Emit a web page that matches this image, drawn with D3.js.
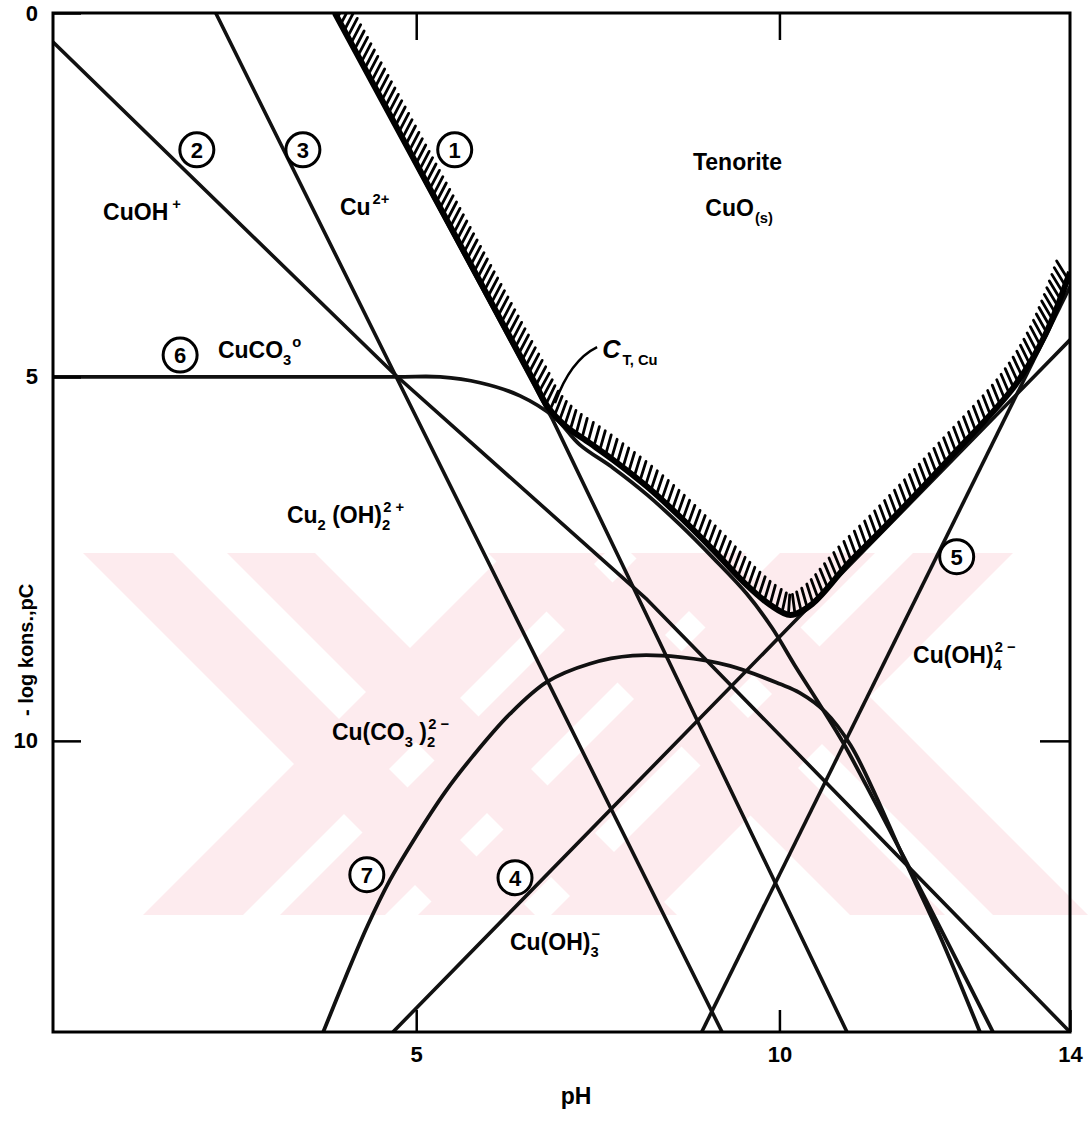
<!DOCTYPE html>
<html>
<head>
<meta charset="utf-8">
<script src="https://cdn.jsdelivr.net/npm/d3@7"></script>
<style>
  html, body { margin: 0; padding: 0; background: #fff; }
  svg { display: block; font-family: 'Liberation Sans', Arial, sans-serif; font-weight: bold; }
</style>
</head>
<body>
<svg id="chart" width="1088" height="1122"></svg>
<script>
// [pH, -log C] pairs
const cuIon = [[3.88, 0], [6.88, 5.59], [10.93, 14]]                    // 1  Cu2+
const cuOH = [[0, 0.40], [4.71, 4.97], [8.18, 8.06], [14, 14]]            // 2  CuOH+
const cu2OH2 = [[2.24, 0], [4.71, 4.97], [9.21, 14]]                      // 3  Cu2(OH)2 2+
const cuOH3 = [[4.68, 14], [10.15, 8.42], [14, 4.49]]                     // 4  Cu(OH)3-
const cuOH4 = [[8.93, 14], [14, 3.76]]                                    // 5  Cu(OH)4 2-
const cuCO3 = [[0, 5.0], [4.71, 5.0], [5.33, 5.0], [5.88, 5.08], [6.43, 5.26],
  [6.91, 5.56], [7.25, 5.93], [7.71, 6.25], [8.18, 6.62], [8.63, 7.03],
  [9.09, 7.49], [9.55, 7.98], [9.90, 8.45], [10.21, 8.96], [10.56, 9.51],
  [10.88, 10.03], [11.32, 10.85], [11.84, 11.84], [12.94, 14]]           // 6  CuCO3°
const cuCO32 = [[3.72, 14], [4.03, 13.24], [4.33, 12.54], [4.64, 11.91],
  [4.98, 11.34], [5.40, 10.70], [5.78, 10.21], [6.29, 9.63], [6.80, 9.19],
  [7.39, 8.94], [7.98, 8.83], [8.63, 8.85], [9.32, 8.97], [10.01, 9.22],
  [10.28, 9.34], [10.63, 9.60], [10.98, 10.06], [11.32, 10.74], [11.66, 11.50],
  [12.21, 12.68], [12.76, 14]]                                            // 7  Cu(CO3)2 2-
const ctCu = [[3.88, 0], [6.61, 5.04], [6.81, 5.41], [7.05, 5.67], [7.39, 5.91],
  [7.71, 6.14], [8.18, 6.51], [8.63, 6.92], [9.09, 7.38], [9.55, 7.86],
  [9.87, 8.13], [10.15, 8.27], [10.45, 8.12], [10.97, 7.54], [11.43, 7.08],
  [12.35, 6.11], [13.24, 5.12], [13.66, 4.42], [14, 3.56]]                // total dissolved Cu

const xTicks = [5, 10, 14]
const yTicks = [0, 5, 10]

// circled line numbers [number, pH, pC]
const markers = [[1, 5.53, 1.88], [2, 1.98, 1.88], [3, 3.44, 1.88], [6, 1.75, 4.70],
  [7, 4.32, 11.84], [4, 6.36, 11.88], [5, 12.44, 7.47]]

// species names: position [pH, pC] and text pieces
const names = [
  { at: [0.69, 2.84], parts: [['CuOH'], ['+', 'sup', 4]] },
  { at: [3.95, 2.78], parts: [['Cu'], ['2+', 'sup', 2]] },
  { at: [2.27, 4.74], parts: [['CuCO'], ['3', 'sub'], ['o', 'sup', 1]] },
  { at: [8.81, 2.16], parts: [['Tenorite']] },
  { at: [8.98, 2.79], parts: [['CuO'], ['(s)', 'sub', 1]] },
  { at: [3.22, 7.01], parts: [['Cu'], ['2', 'sub'], [' (OH)'], ['2', 'sub'], ['2 +', 'sup', -7]] },
  { at: [3.84, 9.99], parts: [['Cu(CO'], ['3', 'sub'], [' )'], ['2', 'sub'], ['2 −', 'sup', -7]] },
  { at: [6.29, 12.87], parts: [['Cu(OH)'], ['3', 'sub'], ['−', 'sup', -7]] },
  { at: [11.84, 8.93], parts: [['Cu(OH)'], ['4', 'sub'], ['2 −', 'sup', -7]] }
]
const ctLabel = { at: [7.56, 4.74], parts: [['C', 'it'], ['T, Cu', 'sub', 2]] }
const ctLeader = [[7.49, 4.59], [7.12, 4.77], [6.91, 5.36]]

// faint scanned watermark behind the plot (page pixels): slant, left x, width
const stamp = { top: 553, bottom: 915 }
const stampBands = [['\\', 83, 90], ['\\', 227, 88], ['/', 143, 100], ['/', 280, 105],
  ['\\', 488, 95], ['\\', 631, 95], ['/', 418, 95], ['/', 551, 100]]

const svg = d3.select('#chart')
const plot = { left: 53, right: 1070, top: 13, bottom: 1032 }

const x = d3.scaleLinear([0, 14], [plot.left, plot.right])
const y = d3.scaleLinear([0, 14], [plot.top, plot.bottom])

svg.append('defs').append('clipPath')
  .attr('id', 'clip')
  .append('rect')
  .attr('x', plot.left)
  .attr('y', plot.top)
  .attr('width', plot.right - plot.left)
  .attr('height', plot.bottom - plot.top)

// watermark
const h = stamp.bottom - stamp.top
svg.append('g')
  .selectAll('polygon')
  .data(stampBands)
  .enter()
  .append('polygon')
  .attr('points', ([dir, x0, w]) => dir === '\\'
    ? [[x0, stamp.top], [x0 + w, stamp.top], [x0 + w + h, stamp.bottom], [x0 + h, stamp.bottom]].join(' ')
    : [[x0, stamp.bottom], [x0 + w, stamp.bottom], [x0 + w + h, stamp.top], [x0 + h, stamp.top]].join(' '))
  .attr('fill', '#fdebee')

const g = svg.append('g').attr('clip-path', 'url(#clip)')

const straightLine = d3.line()
  .x(d => x(d[0]))
  .y(d => y(d[1]))
const smoothLine = d3.line()
  .x(d => x(d[0]))
  .y(d => y(d[1]))
  .curve(d3.curveCatmullRom.alpha(0.5))

// straight species lines
g.selectAll('path.species')
  .data([cuIon, cuOH, cu2OH2, cuOH3, cuOH4])
  .enter()
  .append('path')
  .classed('species', true)
  .attr('d', straightLine)
  .attr('fill', 'none')
  .attr('stroke', '#111')
  .attr('stroke-width', 3.6)
  .attr('stroke-linejoin', 'round')

// carbonate complexes are curved
g.selectAll('path.carbonate')
  .data([cuCO3, cuCO32])
  .enter()
  .append('path')
  .classed('carbonate', true)
  .attr('d', smoothLine)
  .attr('fill', 'none')
  .attr('stroke', '#111')
  .attr('stroke-width', 3.8)

// total solubility curve with hatching on the solid side
const ct = g.append('path')
  .attr('d', smoothLine(ctCu))
  .attr('fill', 'none')
  .attr('stroke', '#000')
  .attr('stroke-width', 6)

const node = ct.node()
const total = node.getTotalLength()
const hatch = []
for (let s = 4; s < total - 2; s += 7.2) {
  const p = node.getPointAtLength(s)
  const a = node.getPointAtLength(s - 2)
  const b = node.getPointAtLength(s + 2)
  let tx = b.x - a.x
  let ty = b.y - a.y
  const tl = Math.hypot(tx, ty)
  tx /= tl
  ty /= tl
  // normal pointing to the tenorite side, leaned toward vertical
  let dx = ty
  let dy = -tx - 1
  const dl = Math.hypot(dx, dy)
  dx /= dl
  dy /= dl
  hatch.push({ x1: p.x + ty * 2, y1: p.y - tx * 2, x2: p.x + dx * 20, y2: p.y + dy * 20 })
}
g.selectAll('line.hatch')
  .data(hatch)
  .enter()
  .append('line')
  .classed('hatch', true)
  .attr('x1', d => d.x1)
  .attr('y1', d => d.y1)
  .attr('x2', d => d.x2)
  .attr('y2', d => d.y2)
  .attr('stroke', '#000')
  .attr('stroke-width', 2.8)
  .attr('stroke-linecap', 'round')

// leader from C_T,Cu label to the curve
svg.append('path')
  .attr('d', `M${x(ctLeader[0][0])},${y(ctLeader[0][1])} Q${x(ctLeader[1][0])},${y(ctLeader[1][1])} ${x(ctLeader[2][0])},${y(ctLeader[2][1])}`)
  .attr('fill', 'none')
  .attr('stroke', '#000')
  .attr('stroke-width', 2.5)

// frame
svg.append('rect')
  .attr('x', plot.left)
  .attr('y', plot.top)
  .attr('width', plot.right - plot.left)
  .attr('height', plot.bottom - plot.top)
  .attr('fill', 'none')
  .attr('stroke', '#000')
  .attr('stroke-width', 3)

function styleAxis (sel) {
  sel.select('.domain').remove()
  sel.selectAll('.tick line').attr('stroke', '#000').attr('stroke-width', 2.5)
  sel.selectAll('.tick text')
    .attr('fill', '#000')
    .attr('font-size', 22)
    .attr('font-family', "'Liberation Sans', Arial, sans-serif")
    .attr('font-weight', 'bold')
}

svg.append('g')
  .attr('transform', `translate(0,${plot.bottom})`)
  .call(d3.axisBottom(x).tickValues(xTicks).tickSizeInner(-22).tickSizeOuter(0).tickPadding(14))
  .call(styleAxis)

svg.append('g')
  .attr('transform', `translate(0,${plot.top})`)
  .call(d3.axisTop(x).tickValues([5, 10]).tickSizeInner(-27).tickSizeOuter(0).tickFormat(() => ''))
  .call(styleAxis)

svg.append('g')
  .attr('transform', `translate(${plot.left},0)`)
  .call(d3.axisLeft(y).tickValues(yTicks).tickSizeInner(-28).tickSizeOuter(0).tickPadding(15))
  .call(styleAxis)

svg.append('g')
  .attr('transform', `translate(${plot.right},0)`)
  .call(d3.axisRight(y).tickValues([10]).tickSizeInner(-30).tickSizeOuter(0).tickFormat(() => ''))
  .call(styleAxis)

svg.append('text')
  .attr('x', x(7.2))
  .attr('y', plot.bottom + 72)
  .attr('text-anchor', 'middle')
  .attr('font-size', 23)
  .text('pH')

svg.append('text')
  .attr('transform', `translate(33,${y(8.75)}) rotate(-90)`)
  .attr('text-anchor', 'middle')
  .attr('font-size', 20)
  .text('- log kons.,pC')

// circled numbers
const mk = svg.selectAll('g.marker')
  .data(markers)
  .enter()
  .append('g')
  .classed('marker', true)
  .attr('transform', d => `translate(${x(d[1])},${y(d[2])})`)
mk.append('circle')
  .attr('r', 17)
  .attr('fill', '#fff')
  .attr('stroke', '#000')
  .attr('stroke-width', 3)
mk.append('text')
  .attr('text-anchor', 'middle')
  .attr('dy', '0.36em')
  .attr('font-size', 22)
  .text(d => d[0])

function richLabel (lab, size) {
  const t = svg.append('text')
    .attr('x', x(lab.at[0]))
    .attr('y', y(lab.at[1]))
    .attr('font-size', size)
  let shift = 0
  lab.parts.forEach(([s, kind, dx]) => {
    const target = kind === 'sub' ? 7 : kind === 'sup' ? -11 : 0
    const ts = t.append('tspan').attr('dy', target - shift).text(s)
    shift = target
    if (kind === 'sub' || kind === 'sup') ts.attr('font-size', size * 0.64)
    if (kind === 'it') ts.attr('font-style', 'italic').attr('font-size', size * 1.1)
    if (dx) ts.attr('dx', dx)
  })
}
names.forEach(n => richLabel(n, 23))
richLabel(ctLabel, 23)
</script>
</body>
</html>
